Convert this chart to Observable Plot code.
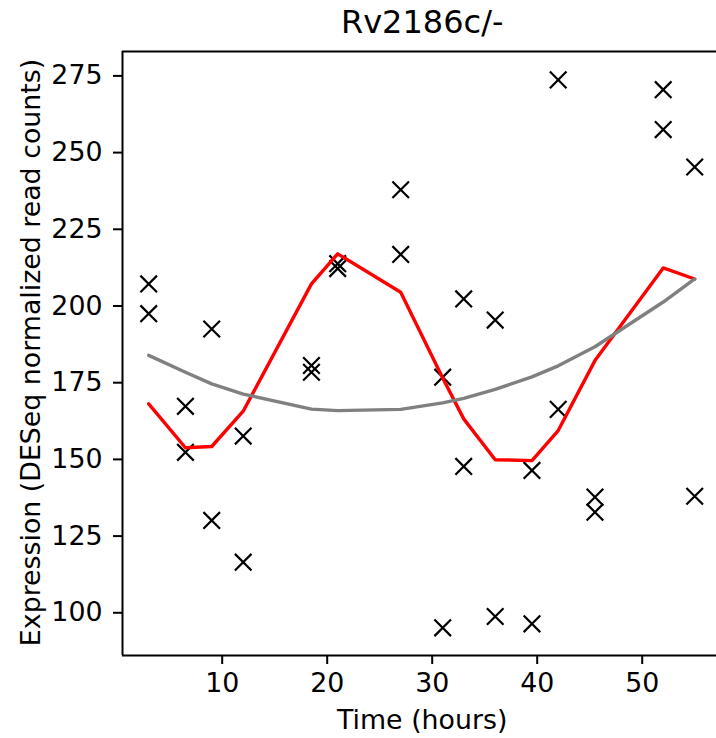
<!DOCTYPE html>
<html>
<head>
<meta charset="utf-8">
<script src="https://cdn.jsdelivr.net/npm/d3@7"></script>
<script src="https://cdn.jsdelivr.net/npm/@observablehq/plot@0.6"></script>
<style>
  html, body { margin: 0; padding: 0; background: white; }
</style>
</head>
<body>
<div id="chart"></div>
<script>
const titleText = "Rv2186c/-";
const xLabel = "Time (hours)";
const yLabel = "Expression (DESeq normalized read counts)";

const times = [3, 6.5, 9, 12, 18.5, 21, 27, 31, 33, 36, 39.5, 42, 45.5, 52, 55];
const rep1 = [207.2, 167.3, 192.5, 157.6, 180.6, 213.8, 237.9, 176.8, 202.3, 195.4, 146.4, 273.7, 137.7, 270.5, 245.3];
const rep2 = [197.5, 152.3, 130.1, 116.5, 178.4, 212.2, 216.8, 95.1, 147.7, 98.8, 96.4, 166.3, 132.8, 257.5, 138.0];
const fitRed = [168.1, 153.8, 154.2, 165.7, 207.2, 217.0, 204.5, 176.5, 163.2, 149.9, 149.6, 159.4, 182.2, 212.4, 208.8];
const fitGray = [183.9, 178.4, 174.6, 171.3, 166.4, 165.9, 166.3, 168.4, 169.9, 172.8, 176.9, 180.5, 186.7, 201.3, 208.8];

const xTicks = [10, 20, 30, 40, 50];
const yTicks = [100, 125, 150, 175, 200, 225, 250, 275];

const xDomain = [0.505, 57.076];
const yDomain = [86.08, 282.95];

const points = times.flatMap((t, i) => [{t, v: rep1[i]}, {t, v: rep2[i]}]);
const fit = times.map((t, i) => ({t, red: fitRed[i], gray: fitGray[i]}));

const chart = Plot.plot({
  width: 716,
  height: 738,
  marginLeft: 122,
  marginRight: 0,
  marginTop: 51,
  marginBottom: 83,
  style: {fontFamily: "DejaVu Sans", fontSize: "26.8px", background: "white", color: "black"},
  x: {domain: xDomain},
  y: {domain: yDomain},
  marks: [
    Plot.axisX({ticks: xTicks, tickSize: 9, tickPadding: 8, strokeWidth: 2, label: null, tickFormat: d => String(d)}),
    Plot.axisY({ticks: yTicks, tickSize: 9, tickPadding: 11, strokeWidth: 2, label: null, tickFormat: d => String(d)}),
    Plot.ruleX([xDomain[0]], {stroke: "black", strokeWidth: 2}),
    Plot.ruleY([yDomain[0]], {stroke: "black", strokeWidth: 2}),
    Plot.ruleY([yDomain[1]], {stroke: "black", strokeWidth: 2}),
    Plot.dot(points, {x: "t", y: "v", symbol: "times", r: 7.6, stroke: "black", strokeWidth: 2.2}),
    Plot.line(fit, {x: "t", y: "red", stroke: "#ff0000", strokeWidth: 3.4}),
    Plot.line(fit, {x: "t", y: "gray", stroke: "#808080", strokeWidth: 3.4}),
    Plot.text([titleText], {text: d => d, frameAnchor: "top", lineAnchor: "top", dy: -41, dx: 2.7, fontSize: 32, fill: "black"}),
    Plot.text([xLabel], {text: d => d, frameAnchor: "bottom", lineAnchor: "top", dy: 54, dx: 2.7, fontSize: 26.8, fill: "black"}),
    Plot.text([yLabel], {text: d => d, frameAnchor: "left", textAnchor: "middle", rotate: -90, lineAnchor: "middle", dx: -91, dy: -1, fontSize: 26.8, fill: "black"})
  ]
});
document.getElementById("chart").appendChild(chart);
</script>
</body>
</html>
